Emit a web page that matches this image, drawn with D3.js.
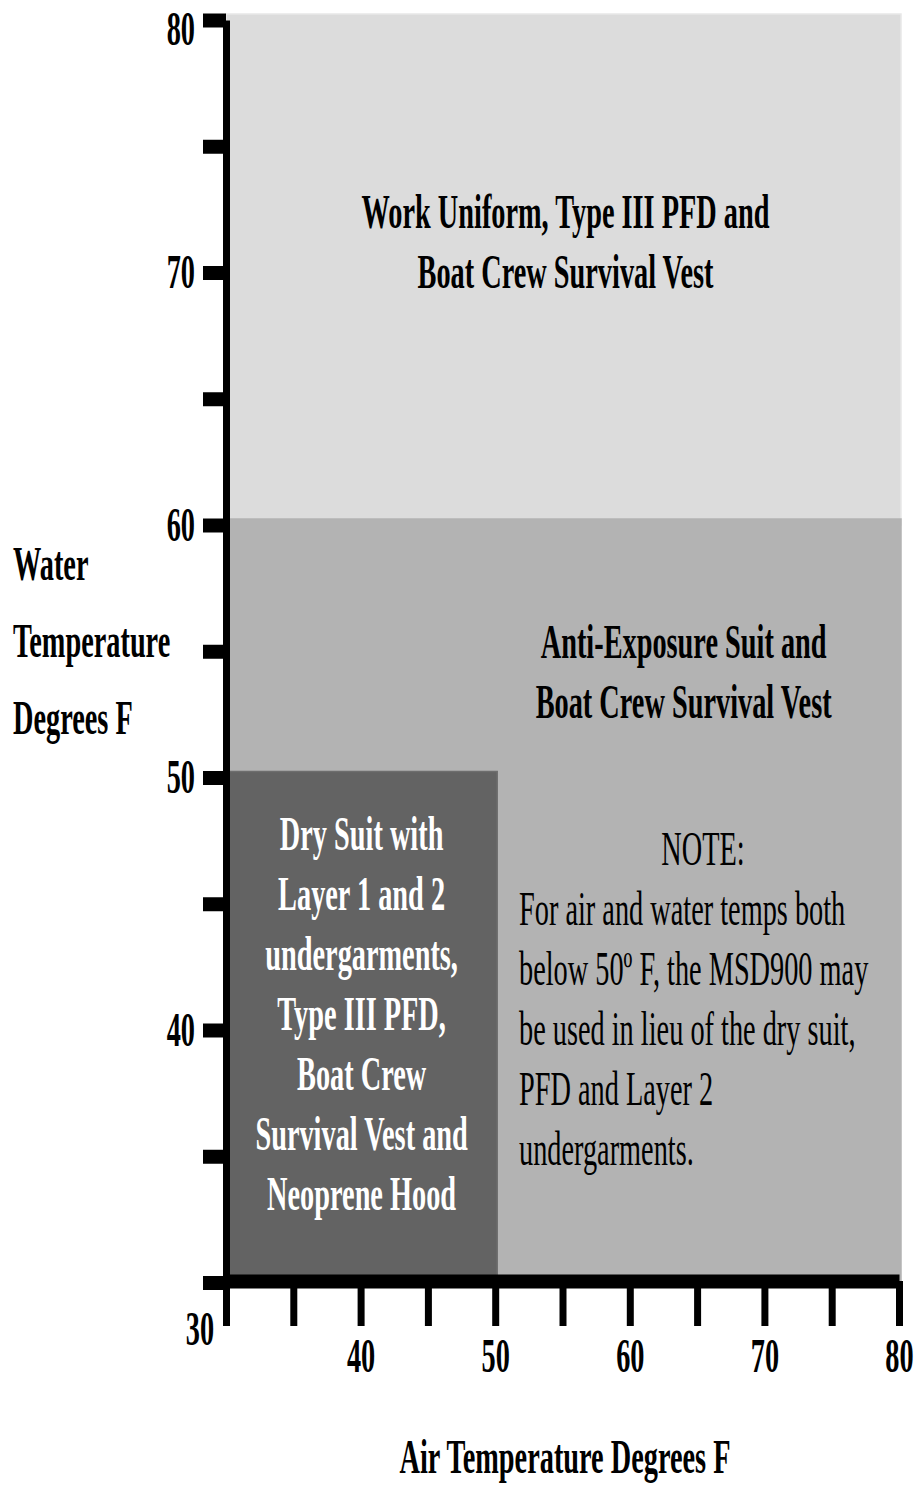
<!DOCTYPE html>
<html>
<head>
<meta charset="utf-8">
<script src="https://cdn.jsdelivr.net/npm/d3@7"></script>
<style>
  body { margin: 0; background: #fff; }
  svg text { font-family: "Liberation Serif", "Times New Roman", serif; font-size: 48px; }
</style>
</head>
<body>
<div id="chart"></div>
<script>
// zones of the protective clothing chart (air temp on x, water temp on y)
const zoneNames = ["workUniform", "antiExposure", "drySuit"];
const zoneAirMin = [30, 30, 30];
const zoneAirMax = [80, 80, 50];
const zoneWaterMin = [60, 30, 30];
const zoneWaterMax = [80, 60, 50];
const zoneLabels = [
    ["Work Uniform, Type III PFD and", "Boat Crew Survival Vest"],
    ["Anti-Exposure Suit and", "Boat Crew Survival Vest"],
    ["Dry Suit with", "Layer 1 and 2", "undergarments,", "Type III PFD,", "Boat Crew", "Survival Vest and", "Neoprene Hood"]
];
const noteTitle = "NOTE:";
const noteLines = [
    "For air and water temps both",
    "below 50º F, the MSD900 may",
    "be used in lieu of the dry suit,",
    "PFD and Layer 2",
    "undergarments."
];

const xTicks = [30, 35, 40, 45, 50, 55, 60, 65, 70, 75, 80];
const xTickLabels = [40, 50, 60, 70, 80];
const yTicks = [30, 35, 40, 45, 50, 55, 60, 65, 70, 75, 80];
const yTickLabels = [40, 50, 60, 70, 80];
const cornerLabel = "30";
const yTitleLines = ["Water", "Temperature", "Degrees F"];
const xTitle = "Air Temperature Degrees F";

const width = 914, height = 1487;
const squeeze = 0.59; // the source font is very narrow

const svg = d3.select("#chart").append("svg")
    .attr("width", width)
    .attr("height", height);

const x = d3.scaleLinear().domain([30, 80]).range([226, 899]);
const y = d3.scaleLinear().domain([30, 80]).range([1282.5, 20]);

const fills = { workUniform: "#dcdcdc", antiExposure: "#b3b3b3", drySuit: "#636363" };
const edges = { workUniform: "#e8e8e8", antiExposure: "#b3b3b3", drySuit: "#6e6e6e" };

// helper: narrow text placed at (tx, ty)
function narrowText(g, str, tx, ty, anchor, opts = {}) {
    return g.append("text")
        .attr("transform", `translate(${tx},${ty}) scale(${squeeze},1)`)
        .attr("text-anchor", anchor)
        .attr("font-weight", opts.weight || "bold")
        .attr("fill", opts.fill || "#000")
        .text(str);
}

// zone rectangles
const zones = zoneNames.map((n, i) => ({
    name: n, x0: zoneAirMin[i], x1: zoneAirMax[i], y0: zoneWaterMin[i], y1: zoneWaterMax[i]
}));

svg.append("g").selectAll("rect")
    .data(zones)
    .join("rect")
    .attr("x", d => x(d.x0))
    .attr("y", d => y(d.y1) - 6)
    .attr("width", d => x(d.x1) - x(d.x0) + 2)
    .attr("height", d => y(d.y0) - y(d.y1) + 6)
    .attr("fill", d => fills[d.name])
    .attr("stroke", d => edges[d.name])
    .attr("stroke-width", 1.5);

// zone labels
const labels = svg.append("g");
zoneLabels[0].forEach((t, i) => narrowText(labels, t, x(55) + 3, 228 + i * 60, "middle"));
zoneLabels[1].forEach((t, i) => narrowText(labels, t, x(64), 658 + i * 60, "middle"));
zoneLabels[2].forEach((t, i) => narrowText(labels, t, x(40) + 1, 850 + i * 60, "middle", { fill: "#fff" }));
narrowText(labels, noteTitle, 703, 865, "middle", { weight: "normal" });
noteLines.forEach((t, i) => narrowText(labels, t, 519, 925 + i * 60, "start", { weight: "normal" }));

// y axis
const yAxis = svg.append("g")
    .attr("transform", `translate(${x(30)},0)`)
    .call(d3.axisLeft(y)
        .tickValues(yTicks)
        .tickSize(23)
        .tickSizeOuter(0)
        .tickPadding(8)
        .tickFormat(d => yTickLabels.includes(d) ? d : ""));
yAxis.select(".domain").attr("stroke", "#000").attr("stroke-width", 7);
yAxis.selectAll(".tick line").attr("stroke", "#000").attr("stroke-width", 14);
yAxis.selectAll(".tick text").each(function(d) {
    const t = d3.select(this);
    const tx = +t.attr("x");
    const shift = d === 80 ? 9 : 0;
    t.attr("x", 0)
        .attr("transform", `translate(${tx},${shift}) scale(${squeeze},1)`)
        .attr("font-weight", "bold")
        .attr("fill", "#000");
});
yAxis.attr("font-size", null).attr("font-family", null);

// x axis
const xAxis = svg.append("g")
    .attr("transform", `translate(0,${y(30) - 1.5})`)
    .call(d3.axisBottom(x)
        .tickValues(xTicks)
        .tickSize(45)
        .tickSizeOuter(0)
        .tickPadding(12)
        .tickFormat(d => xTickLabels.includes(d) ? d : ""));
xAxis.select(".domain").attr("stroke", "#000").attr("stroke-width", 14);
xAxis.selectAll(".tick line").attr("stroke", "#000").attr("stroke-width", 7);
xAxis.selectAll(".tick text").each(function() {
    const t = d3.select(this);
    const ty = +t.attr("y");
    t.attr("y", 0)
        .attr("transform", `translate(0,${ty}) scale(${squeeze},1)`)
        .attr("font-weight", "bold")
        .attr("fill", "#000");
});
xAxis.attr("font-size", null).attr("font-family", null);

// shared corner label
narrowText(svg, cornerLabel, x(30) - 26, 1345, "middle");

// axis titles
yTitleLines.forEach((t, i) => narrowText(svg, t, 13, 580 + i * 77, "start"));
narrowText(svg, xTitle, 565, 1473, "middle");
</script>
</body>
</html>
